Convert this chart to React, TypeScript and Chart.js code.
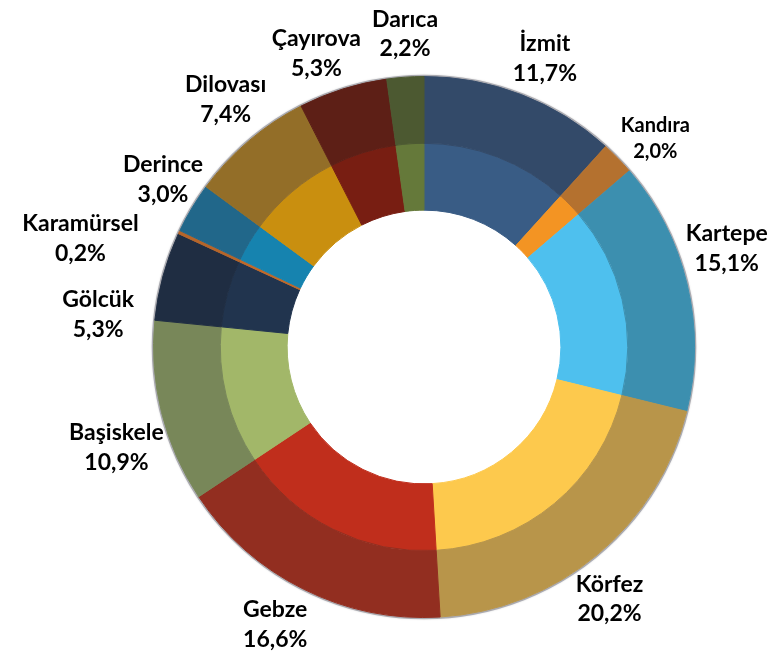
import React, { useEffect, useRef } from "react";
import { Chart, registerables } from "chart.js";

Chart.register(...registerables);

const districts = [
  "İzmit", "Kandıra", "Kartepe", "Körfez", "Gebze", "Başiskele",
  "Gölcük", "Karamürsel", "Derince", "Dilovası", "Çayırova", "Darıca",
];
const shares = [11.7, 2.0, 15.1, 20.2, 16.6, 10.9, 5.3, 0.2, 3.0, 7.4, 5.3, 2.2];
const outerColors = [
  "#334A69", "#B4712F", "#3C8FAF", "#B8954A", "#922E20", "#788759",
  "#1F2D42", "#B5652A", "#21678A", "#936E28", "#5D1F16", "#4C5931",
];
const innerColors = [
  "#395C85", "#F39423", "#4EC0EE", "#FDC94D", "#C02E1C", "#A2B769",
  "#21344E", "#C0692A", "#1683AF", "#C98F0F", "#781E12", "#65793A",
];
// label placement: extra radial distance beyond the ring (px) and angle nudge (deg)
const labelGap = [43, 41, 48, 42, 43.5, 53, 57, 90, 40, 47, 43, 43.6];
const labelTurn = [1.6, 2.2, -4.7, 3.4, 1.8, -4.1, -9.5, -7.5, 1.9, 1.7, -2.6, 0.5];
const labelSize = [23, 20, 23, 23, 23, 23, 23, 23, 23, 23, 23, 23];

const fmt = (v: number) => v.toFixed(1).replace(".", ",") + "%";

const ringShadow = {
  id: "ringShadow",
  beforeDatasetsDraw(chart: any) {
    const meta = chart.getDatasetMeta(0);
    const arc = meta.data[0];
    if (!arc) return;
    const { ctx } = chart;
    ctx.save();
    ctx.beginPath();
    ctx.arc(arc.x, arc.y, arc.outerRadius + 0.8, 0, Math.PI * 2);
    ctx.strokeStyle = "rgba(130,130,140,0.6)";
    ctx.lineWidth = 2;
    ctx.shadowColor = "rgba(0,0,0,0.25)";
    ctx.shadowBlur = 2;
    ctx.stroke();
    ctx.restore();
  },
};

const outerLabels = {
  id: "outerLabels",
  afterDatasetsDraw(chart: any) {
    const meta = chart.getDatasetMeta(0);
    const { ctx } = chart;
    ctx.save();
    ctx.fillStyle = "#000000";
    ctx.textAlign = "center";
    ctx.textBaseline = "alphabetic";
    meta.data.forEach((arc: any, i: number) => {
      const mid = (arc.startAngle + arc.endAngle) / 2 + (labelTurn[i] * Math.PI) / 180;
      const d = arc.outerRadius + labelGap[i];
      const x = arc.x + d * Math.cos(mid);
      const y = arc.y + d * Math.sin(mid);
      const s = labelSize[i];
      ctx.font = `bold ${s}px Lato, "Open Sans", sans-serif`;
      const lh = s * 1.3;
      ctx.fillText(districts[i], x, y - lh * 0.23);
      ctx.fillText(fmt(shares[i]), x, y + lh * 0.77);
    });
    ctx.restore();
  },
};

export default function App() {
  const ref = useRef<HTMLCanvasElement | null>(null);
  useEffect(() => {
    document.body.style.margin = "0";
    if (!ref.current) return;
    const chart = new Chart(ref.current, {
      type: "doughnut",
      data: {
        labels: districts,
        datasets: [
          {
            data: shares,
            backgroundColor: outerColors,
            borderColor: outerColors,
            borderWidth: 1,
          },
          {
            data: shares,
            backgroundColor: innerColors,
            borderColor: innerColors,
            borderWidth: 1,
          },
        ],
      },
      options: {
        responsive: false,
        animation: false,
        cutout: "50.6%",
        layout: { padding: { left: 153, right: 81, top: 76, bottom: 43 } },
        plugins: {
          legend: { display: false },
          tooltip: { enabled: false },
        },
      },
      plugins: [ringShadow, outerLabels],
    });
    return () => chart.destroy();
  }, []);
  return (
    <div style={{ width: 776, height: 661, background: "#ffffff" }}>
      <canvas ref={ref} width={776} height={661} />
    </div>
  );
}
